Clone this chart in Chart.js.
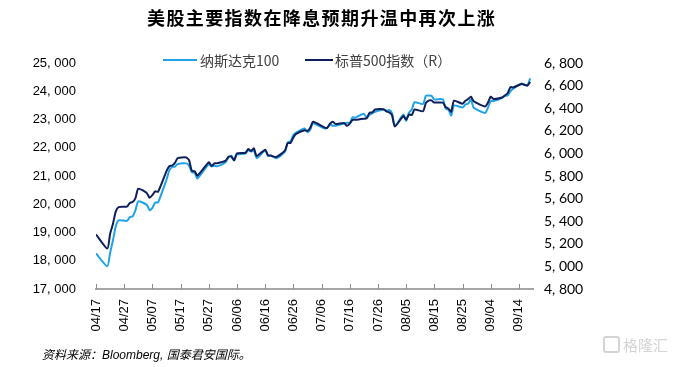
<!DOCTYPE html>
<html>
<head>
<meta charset="utf-8">
<script src="https://cdn.jsdelivr.net/npm/chart.js@4"></script>
<style>
  body { margin: 0; background: #fff; }
  #wrap { position: relative; width: 677px; height: 367px; overflow: hidden; }
  #myChart { position: absolute; left: 0; top: 0; }
  .title { position: absolute; left: 147px; top: 8px; font: bold 18px "Noto Sans CJK SC"; line-height: 18px; letter-spacing: 1.4px; color: #000; white-space: nowrap; }
  .leg { position: absolute; top: 51px; font: 14px "Noto Sans CJK SC"; line-height: 18px; color: #404040; white-space: nowrap; }
  .legline { position: absolute; top: 59px; height: 2px; }
  .src { position: absolute; left: 42px; top: 347px; font: italic 12px "Liberation Sans", "Noto Sans CJK SC"; line-height: 16px; color: #000; white-space: nowrap; }
  .wm { position: absolute; left: 603px; top: 336px; font: 15px "Noto Sans CJK SC"; line-height: 18px; color: #d4d4d4; white-space: nowrap; }
  .wm span { display: inline-block; width: 13px; height: 13px; border: 2px solid #d4d4d4; border-radius: 3px; vertical-align: -2px; margin-right: 3px; }
</style>
</head>
<body>
<div id="wrap">
  <canvas id="myChart" width="677" height="367"></canvas>
  <div class="title">美股主要指数在降息预期升温中再次上涨</div>
  <div class="legline" style="left:163px;width:34px;background:#1fa3e6"></div>
  <div class="leg" style="left:200px">纳斯达克100</div>
  <div class="legline" style="left:305px;width:28px;background:#0f1f5c"></div>
  <div class="leg" style="left:335px">标普500指数（R）</div>
  <div class="src">资料来源：Bloomberg, 国泰君安国际。</div>
  <div class="wm"><span></span>格隆汇</div>
</div>
<script>
// trading days, 2025
var dates = ['04/17','04/21','04/22','04/23','04/24','04/25','04/28','04/29','04/30',
  '05/01','05/02','05/05','05/06','05/07','05/08','05/09','05/12','05/13','05/14','05/15','05/16','05/19','05/20','05/21','05/22','05/23','05/27','05/28','05/29','05/30',
  '06/02','06/03','06/04','06/05','06/06','06/09','06/10','06/11','06/12','06/13','06/16','06/17','06/18','06/20','06/23','06/24','06/25','06/26','06/27','06/30',
  '07/01','07/02','07/03','07/07','07/08','07/09','07/10','07/11','07/14','07/15','07/16','07/17','07/18','07/21','07/22','07/23','07/24','07/25','07/28','07/29','07/30','07/31',
  '08/01','08/04','08/05','08/06','08/07','08/08','08/11','08/12','08/13','08/14','08/15','08/18','08/19','08/20','08/21','08/22','08/25','08/26','08/27','08/28','08/29',
  '09/02','09/03','09/04','09/05','09/08','09/09','09/10','09/11','09/12','09/15','09/16','09/17','09/18'];

var nasdaq100 = [18258,17809,18277,18714,19216,19432,19412,19546,19571,
  19789,20102,19978,19791,19868,20064,20061,20868,21197,21320,21336,21427,21447,21367,21136,21113,20915,21413,21341,21364,21341,
  21492,21659,21720,21547,21762,21793,21914,21866,21913,21631,21908,21719,21720,21626,21858,22190,22238,22447,22535,22679,
  22553,22641,22867,22686,22701,22830,22781,22780,22855,22884,22885,23077,23066,23204,23063,23162,23219,23273,23357,23309,23337,23218,
  22763,23169,22954,23245,23356,23611,23549,23840,23849,23838,23713,23714,23385,23346,23143,23498,23425,23525,23566,23703,23415,
  23232,23414,23654,23653,23762,23839,23849,24000,24093,24275,24230,24203,24455];

var spx = [5283,5158,5288,5376,5485,5525,5529,5561,5569,
  5604,5687,5650,5607,5631,5664,5660,5844,5887,5893,5917,5958,5964,5940,5845,5842,5803,5922,5889,5912,5912,
  5936,5970,5971,5939,6000,6006,6039,6022,6045,5977,6033,5983,5981,5968,6025,6092,6092,6141,6173,6205,
  6198,6227,6279,6230,6226,6263,6280,6260,6269,6244,6264,6297,6297,6306,6310,6359,6363,6389,6390,6371,6363,6339,
  6238,6330,6299,6345,6340,6389,6373,6446,6467,6469,6450,6449,6411,6396,6370,6467,6439,6466,6481,6502,6460,
  6416,6448,6502,6482,6495,6513,6532,6587,6584,6615,6607,6600,6632];

var leftTicks = [17000, 25000, 1000];
var rightTicks = [4800, 6800, 200];
var xTickDays = [0, 10, 20, 30, 40, 50, 60, 70, 80, 90, 100, 110, 120, 130, 140, 150];

var start = new Date(2025, 3, 17);
function dayOf(s) {
  var d = new Date(2025, parseInt(s.slice(0, 2)) - 1, parseInt(s.slice(3)));
  return Math.round((d - start) / 86400000);
}
function dayLabel(n) {
  var d = new Date(2025, 3, 17 + n);
  var m = d.getMonth() + 1, dd = d.getDate();
  return (m < 10 ? '0' : '') + m + '/' + (dd < 10 ? '0' : '') + dd;
}
function fmt(v) {
  var s = String(v);
  return s.slice(0, s.length - 3) + ', ' + s.slice(s.length - 3);
}

var ndxPts = dates.map(function (d, i) { return { x: dayOf(d), y: nasdaq100[i] }; });
var spxPts = dates.map(function (d, i) { return { x: dayOf(d), y: spx[i] }; });

var tickMarks = {
  id: 'tickMarks',
  afterDraw: function (chart) {
    var sc = chart.scales.x, c = chart.ctx;
    c.save();
    c.strokeStyle = '#8c8c8c';
    c.lineWidth = 1;
    sc.ticks.forEach(function (t) {
      var x = Math.round(sc.getPixelForValue(t.value)) + 0.5;
      c.beginPath();
      c.moveTo(x, sc.top);
      c.lineTo(x, sc.top - 5);
      c.stroke();
    });
    c.restore();
  }
};

var ctx = document.getElementById('myChart').getContext('2d');
var myChart = new Chart(ctx, {
  type: 'line',
  data: {
    datasets: [{
      label: '纳斯达克100',
      data: ndxPts,
      yAxisID: 'y',
      borderColor: '#1fa3e6',
      borderWidth: 2,
      pointRadius: 0,
      tension: 0.2,
      order: 1
    }, {
      label: '标普500指数（R）',
      data: spxPts,
      yAxisID: 'y1',
      borderColor: '#0f1f5c',
      borderWidth: 2,
      pointRadius: 0,
      tension: 0.2,
      order: 0
    }]
  },
  options: {
    responsive: false,
    animation: false,
    layout: { padding: { top: 63, right: 84, bottom: 0, left: 0 } },
    plugins: { legend: { display: false }, tooltip: { enabled: false } },
    scales: {
      x: {
        type: 'linear',
        min: 0,
        max: 155,
        grid: { display: false, drawTicks: false },
        border: { display: true, color: '#a6a6a6', width: 2 },
        afterBuildTicks: function (sc) {
          sc.ticks = xTickDays.map(function (v) { return { value: v }; });
        },
        afterFit: function (sc) { sc.height = 78; },
        ticks: {
          autoSkip: false,
          minRotation: 90,
          maxRotation: 90,
          padding: 10,
          color: '#000',
          font: { family: 'Liberation Sans', size: 13 },
          callback: function (v) { return dayLabel(v); }
        }
      },
      y: {
        position: 'left',
        min: leftTicks[0],
        max: leftTicks[1],
        grid: { display: false, drawTicks: false },
        border: { display: false },
        afterFit: function (sc) { sc.width = 96; },
        ticks: {
          stepSize: leftTicks[2],
          padding: 20,
          color: '#000',
          font: { family: 'Liberation Sans', size: 13 },
          callback: function (v) { return fmt(v); }
        }
      },
      y1: {
        position: 'right',
        min: rightTicks[0],
        max: rightTicks[1],
        grid: { display: false, drawTicks: false },
        border: { display: false },
        afterFit: function (sc) { sc.width = 60; },
        ticks: {
          stepSize: rightTicks[2],
          padding: 11,
          color: '#000',
          font: { family: 'Lato', size: 14 },
          callback: function (v) { return fmt(v); }
        }
      }
    }
  },
  plugins: [tickMarks]
});
</script>
</body>
</html>
